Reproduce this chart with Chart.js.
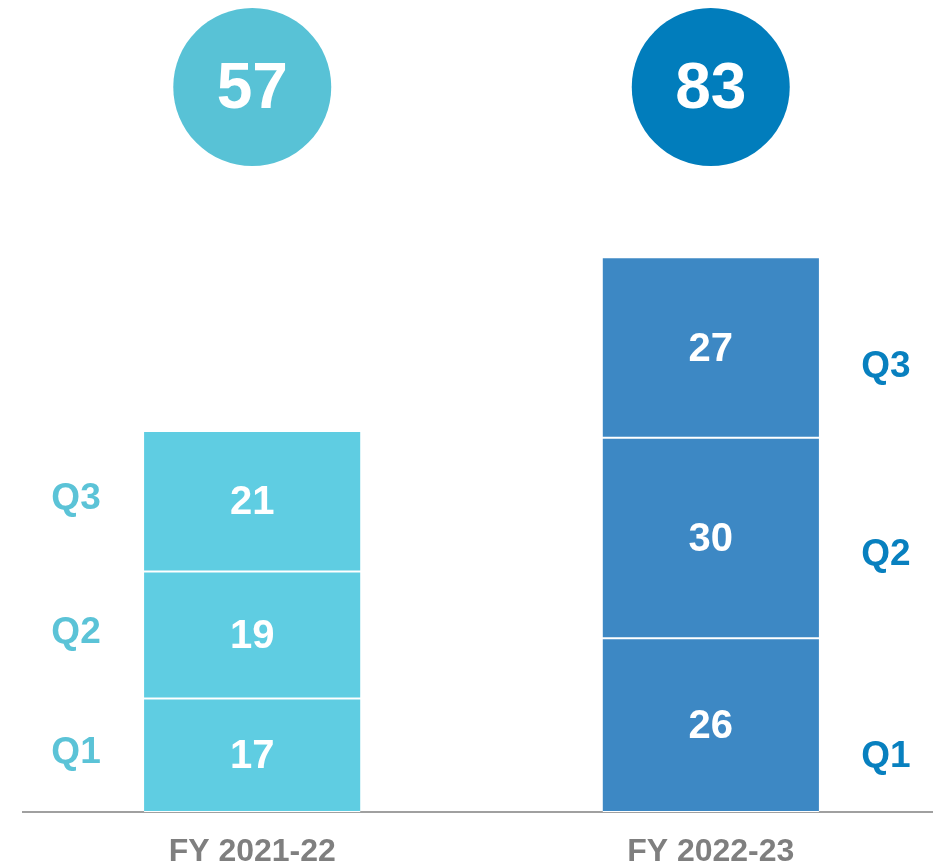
<!DOCTYPE html>
<html>
<head>
<meta charset="utf-8">
<script src="https://cdn.jsdelivr.net/npm/chart.js@4.4.1/dist/chart.umd.min.js"></script>
<style>
    html, body { margin: 0; padding: 0; background: #fff; overflow: hidden; }
    #wrap { width: 940px; height: 867px; position: relative; }
</style>
</head>
<body>
<div id="wrap"><canvas id="qtrChart"></canvas></div>
<script>
// Data
const categories = ['FY 2021-22', 'FY 2022-23'];
const quarterNames = ['Q1', 'Q2', 'Q3'];
const q1Values = [17, 26];
const q2Values = [19, 30];
const q3Values = [21, 27];

// Colours per financial year
const barColors = ['#5FCDE2', '#3D88C4'];
const circleColors = ['#58C2D6', '#017DBC'];
const labelColors = ['#5BC3D7', '#0880BF'];

const FONT = '"Liberation Sans", Arial, sans-serif';

// Draws segment values, quarter labels, category labels and the total circles
const overlayPlugin = {
    id: 'overlay',
    afterDatasetsDraw(chart) {
        const ctx = chart.ctx;
        const rightNudge = [32, 17, 19];
        ctx.save();
        ctx.textAlign = 'center';
        ctx.textBaseline = 'middle';

        chart.data.datasets.forEach((ds, di) => {
            const meta = chart.getDatasetMeta(di);
            meta.data.forEach((bar, i) => {
                const top = Math.min(bar.y, bar.base);
                const bottom = Math.max(bar.y, bar.base);
                const mid = (top + bottom) / 2;
                const half = bar.width / 2;

                ctx.fillStyle = '#fff';
                ctx.font = 'bold 40px ' + FONT;
                ctx.fillText(ds.data[i], bar.x, mid + 2);

                ctx.fillStyle = labelColors[i];
                ctx.font = 'bold 37px ' + FONT;
                if (i === 0) {
                    ctx.fillText(quarterNames[di], bar.x - half - 68, mid - 2);
                } else {
                    ctx.fillText(quarterNames[di], bar.x + half + 67, mid + rightNudge[di]);
                }
            });
        });

        // category labels under the axis
        const meta0 = chart.getDatasetMeta(0);
        ctx.fillStyle = '#7F7F7F';
        ctx.font = 'bold 32px ' + FONT;
        categories.forEach((c, i) => {
            ctx.fillText(c, meta0.data[i].x, chart.chartArea.bottom + 40);
        });

        // totals in circles
        categories.forEach((c, i) => {
            const total = chart.data.datasets.reduce((s, ds) => s + ds.data[i], 0);
            const x = meta0.data[i].x;
            ctx.beginPath();
            ctx.arc(x, 87, 79, 0, Math.PI * 2);
            ctx.fillStyle = circleColors[i];
            ctx.fill();
            ctx.fillStyle = '#fff';
            ctx.font = 'bold 64px ' + FONT;
            ctx.fillText(total, x, 90);
        });
        ctx.restore();
    }
};

function makeDataset(label, values) {
    return {
        label: label,
        data: values,
        backgroundColor: barColors,
        borderColor: '#ffffff',
        borderWidth: {top: 1, bottom: 1, left: 0, right: 0},
        borderSkipped: false,
        barPercentage: 1,
        categoryPercentage: 0.472
    };
}

const ctx = document.getElementById('qtrChart').getContext('2d');
new Chart(ctx, {
    type: 'bar',
    data: {
        labels: categories,
        datasets: [
            makeDataset('Q1', q1Values),
            makeDataset('Q2', q2Values),
            makeDataset('Q3', q3Values)
        ]
    },
    options: {
        responsive: true,
        maintainAspectRatio: false,
        animation: false,
        layout: {padding: {top: 10, left: 23, right: 0, bottom: 55}},
        plugins: {
            legend: {display: false},
            tooltip: {enabled: false}
        },
        scales: {
            x: {
                stacked: true,
                grid: {display: false, drawTicks: false},
                border: {display: true, color: '#A0A0A0', width: 2},
                ticks: {display: false}
            },
            y: {
                stacked: true,
                display: false,
                min: 0,
                max: 120
            }
        }
    },
    plugins: [overlayPlugin]
});
</script>
</body>
</html>
